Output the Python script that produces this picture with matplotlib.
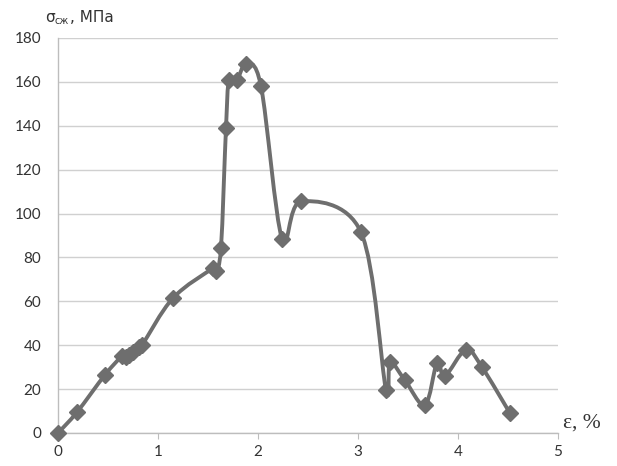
import matplotlib
matplotlib.use("Agg")
import matplotlib.pyplot as plt
from matplotlib.path import Path
from matplotlib.patches import PathPatch
import numpy as np

# Data
strain_pct = [0.0, 0.19, 0.47, 0.64, 0.68, 0.71, 0.75, 0.81, 0.84, 1.15,
              1.55, 1.58, 1.63, 1.68, 1.71, 1.79, 1.88, 2.03, 2.24, 2.43,
              3.03, 3.28, 3.32, 3.47, 3.67, 3.79, 3.87, 4.08, 4.24, 4.52]
stress_mpa = [0.0, 9.5, 26.5, 35.0, 34.5, 35.5, 37.0, 39.0, 40.0, 61.5,
              75.0, 74.0, 84.5, 139.0, 161.0, 161.0, 168.0, 158.0, 88.5, 105.5,
              91.5, 19.6, 32.4, 24.0, 12.7, 32.0, 26.0, 38.0, 30.0, 9.0]
x_ticks = [0, 1, 2, 3, 4, 5]
y_ticks = [0, 20, 40, 60, 80, 100, 120, 140, 160, 180]

W, H = 617, 466
fig = plt.figure(figsize=(W / 100, H / 100), dpi=100)
ax = fig.add_axes([58 / W, 1 - 433 / H, (558 - 58) / W, (433 - 38) / H])

color = "#6e6e6e"

# Smoothed line (Excel-style cardinal Bezier through the points)
P = np.column_stack([strain_pct, stress_mpa])
n = len(P)
verts = [tuple(P[0])]
codes = [Path.MOVETO]
for i in range(n - 1):
    p0 = P[i - 1] if i > 0 else P[i]
    p1 = P[i]
    p2 = P[i + 1]
    p3 = P[i + 2] if i + 2 < n else P[i + 1]
    c1 = p1 + (p2 - p0) / 6.0
    c2 = p2 - (p3 - p1) / 6.0
    verts += [tuple(c1), tuple(c2), tuple(p2)]
    codes += [Path.CURVE4] * 3
ax.add_patch(PathPatch(Path(verts, codes), fill=False, edgecolor=color,
                       linewidth=2.8, capstyle="round", joinstyle="round",
                       zorder=3, clip_on=False))
ax.plot(strain_pct, stress_mpa, linestyle="none", marker="D", markersize=8,
        color=color, zorder=4, clip_on=False)

ax.set_xlim(0, 5)
ax.set_ylim(0, 180)
ax.set_xticks(x_ticks)
ax.set_yticks(y_ticks)
ax.grid(axis="y", color="#d0d0d0", linewidth=1.0)
ax.set_axisbelow(True)
for s in ["top", "right"]:
    ax.spines[s].set_visible(False)
for s in ["left", "bottom"]:
    ax.spines[s].set_color("#bdbdbd")
    ax.spines[s].set_linewidth(1.0)
ax.tick_params(axis="y", length=0, pad=12, labelsize=11, labelcolor="#333333")
ax.tick_params(axis="x", length=4, color="#bdbdbd", pad=5, labelsize=11,
               labelcolor="#333333")
for lab in ax.get_xticklabels() + ax.get_yticklabels():
    lab.set_fontfamily("Lato")

# Axis titles
fig.text(45 / W, 1 - 18 / H, "σ", fontsize=11, family="DejaVu Sans",
         color="#333333", va="center", ha="left")
fig.text(54 / W, 1 - 21 / H, "сж", fontsize=7, family="DejaVu Sans",
         color="#333333", va="center", ha="left")
fig.text(70 / W, 1 - 18 / H, ", МПа", fontsize=11, family="DejaVu Sans",
         color="#333333", va="center", ha="left")
fig.text(563 / W, 1 - 423 / H, "ε, %", fontsize=15.5, family="Liberation Serif",
         color="#333333", va="center", ha="left")

fig.savefig("out.png", dpi=100)
